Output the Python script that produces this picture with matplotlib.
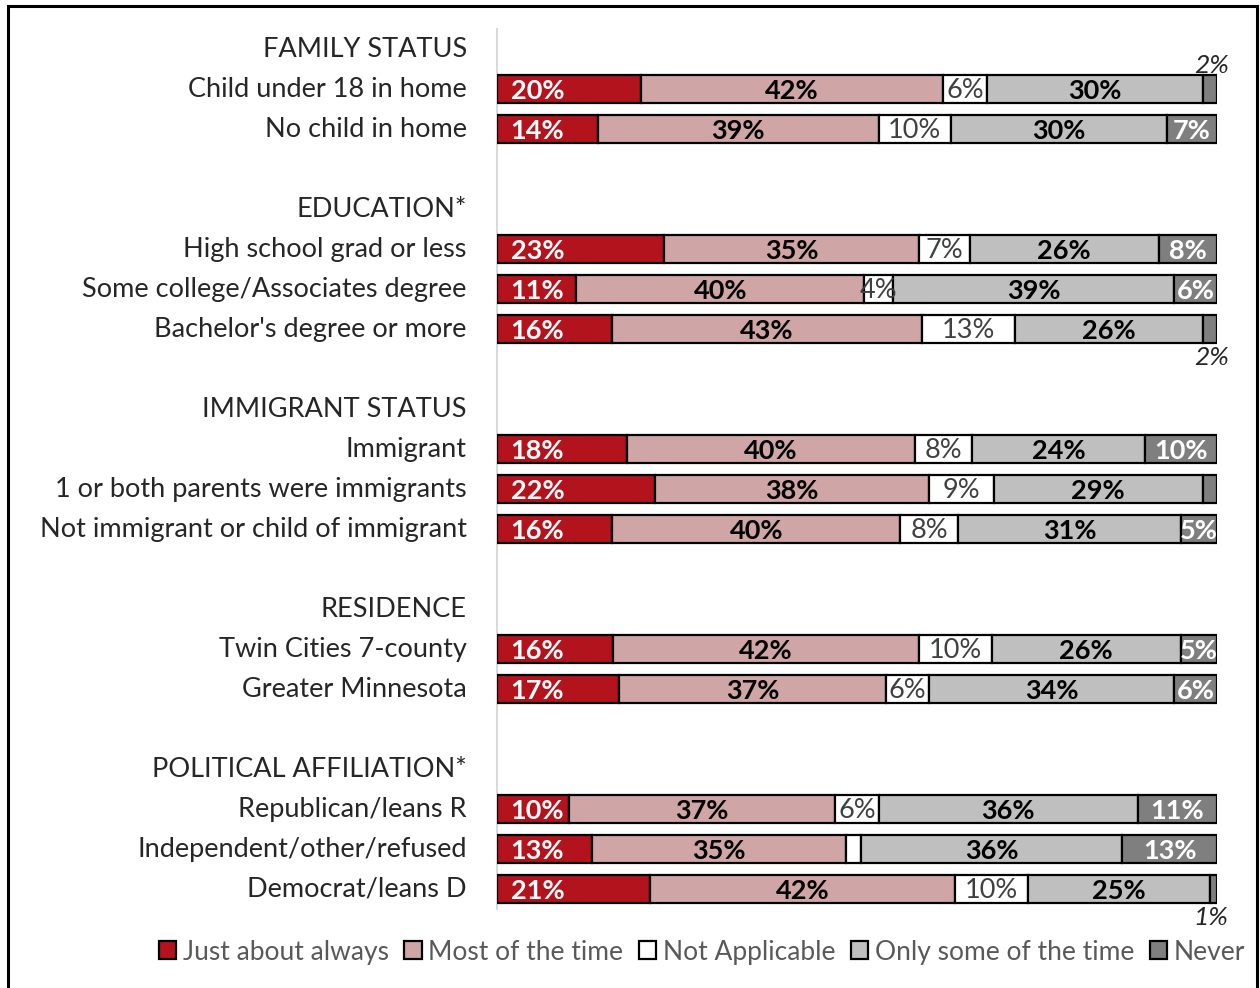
import numpy as np
import matplotlib.pyplot as plt
from matplotlib.patches import Rectangle, Patch

plt.rcParams['font.family'] = ['Lato', 'DejaVu Sans']

headers = ["FAMILY STATUS", "EDUCATION*", "IMMIGRANT STATUS", "RESIDENCE",
           "POLITICAL AFFILIATION*"]
group_rows = [
    ["Child under 18 in home", "No child in home"],
    ["High school grad or less", "Some college/Associates degree",
     "Bachelor's degree or more"],
    ["Immigrant", "1 or both parents were immigrants",
     "Not immigrant or child of immigrant"],
    ["Twin Cities 7-county", "Greater Minnesota"],
    ["Republican/leans R", "Independent/other/refused", "Democrat/leans D"],
]

series = ["Just about always", "Most of the time", "Not Applicable",
          "Only some of the time", "Never"]
just_about_always = [20, 14, 23, 11, 16, 18, 22, 16, 16, 17, 10, 13, 21]
most_of_the_time = [42, 39, 35, 40, 43, 40, 38, 40, 42, 37, 37, 35, 42]
not_applicable = [6, 10, 7, 4, 13, 8, 9, 8, 10, 6, 6, 2, 10]
only_some_of_the_time = [30, 30, 26, 39, 26, 24, 29, 31, 26, 34, 36, 36, 25]
never = [2, 7, 8, 6, 2, 10, 2, 5, 5, 6, 11, 13, 1]

# small segments whose label is left off, or moved outside the bar
hidden = {(6, 4), (11, 2)}
outside = {(0, 4): "above", (4, 4): "below", (12, 4): "below"}

colors = ["#B3131C", "#D0A5A6", "#FFFFFF", "#BFBFBF", "#7F7F7F"]
text_colors = ["white", "black", "#404040", "black", "white"]
text_weights = ["bold", "bold", "normal", "bold", "bold"]

# lay out rows: header, categories, blank spacer between groups
ypos = []
header_pos = []
slot = 0
for g, names in enumerate(group_rows):
    header_pos.append(slot)
    slot += 1
    for _ in names:
        ypos.append(slot)
        slot += 1
    slot += 1
n_slots = slot - 1
categories = [n for names in group_rows for n in names]

vals = np.array([just_about_always, most_of_the_time, not_applicable,
                 only_some_of_the_time, never], dtype=float).T
shares = vals / vals.sum(axis=1, keepdims=True) * 100

fig = plt.figure(figsize=(12.6, 9.88), dpi=100)
ax = fig.add_axes([497 / 1260, 79 / 988, 720 / 1260, 880 / 988])

left = np.zeros(len(categories))
for j in range(5):
    ax.barh(ypos, shares[:, j], left=left, height=0.7, color=colors[j],
            edgecolor="black", linewidth=1.6, label=series[j], zorder=3)
    for i, y in enumerate(ypos):
        if (i, j) in hidden:
            continue
        txt = f"{vals[i, j]:.0f}%"
        if (i, j) in outside:
            dy = -0.6 if outside[(i, j)] == "above" else 0.7
            ax.text(99.2, y + dy, txt, ha="center", va="center", fontsize=19,
                    style="italic", color="#262626")
            continue
        if j == 0:
            x = 5.6
        else:
            x = left[i] + shares[i, j] / 2
        ax.text(x, y + 0.04, txt, ha="center", va="center", fontsize=19.5,
                color=text_colors[j], fontweight=text_weights[j], zorder=4)
    left += shares[:, j]

ax.set_xlim(0, 100)
ax.set_ylim(n_slots - 0.5, -0.5)
ax.set_xticks([])
ax.set_yticks([])
for s in ["top", "right", "bottom"]:
    ax.spines[s].set_visible(False)
ax.spines["left"].set_color("#D9D9D9")
ax.spines["left"].set_linewidth(1.5)

for name, y in zip(categories, ypos):
    ax.text(-4.2, y, name, ha="right", va="center", fontsize=19.5,
            color="#262626", clip_on=False)
for name, y in zip(headers, header_pos):
    ax.text(-4.2, y, name, ha="right", va="center", fontsize=19.5,
            color="#262626", clip_on=False)

handles = [Patch(facecolor=c, edgecolor="black", linewidth=1.6) for c in colors]
fig.legend(handles, series, loc="center", bbox_to_anchor=(702 / 1260, 36 / 988),
           ncol=5, frameon=False, fontsize=19, labelcolor="#595959",
           handlelength=0.65, handleheight=0.65, handletextpad=0.25,
           columnspacing=0.6)

fig.patches.append(Rectangle((8 / 1260, -0.01), 1249 / 1260, 0.007 + 985 / 988,
                             transform=fig.transFigure, fill=False,
                             edgecolor="black", linewidth=2.2))

fig.savefig("out.png", dpi=100)
